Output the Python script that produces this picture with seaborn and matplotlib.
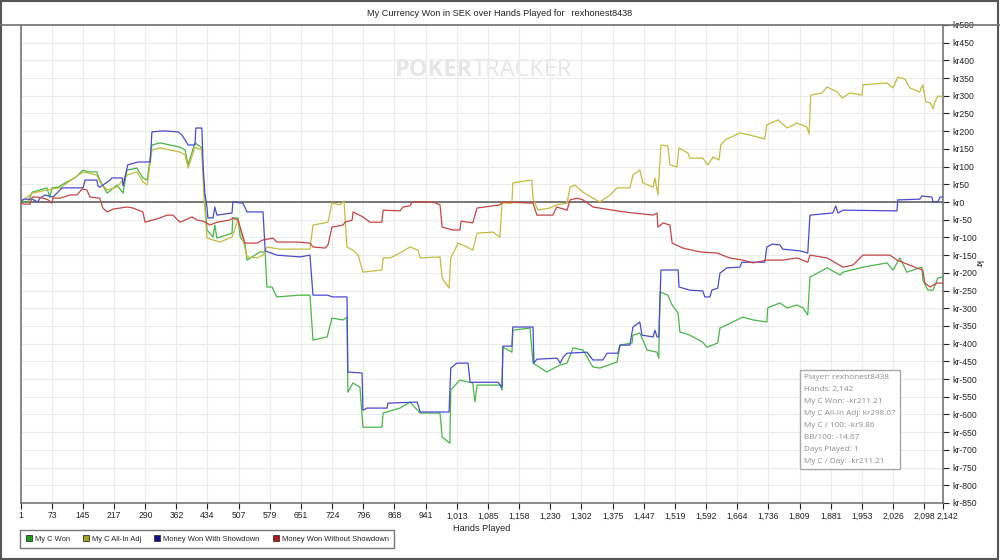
import matplotlib
matplotlib.use("Agg")
import matplotlib.pyplot as plt
import seaborn as sns
from matplotlib.lines import Line2D
from matplotlib.patches import Patch, Rectangle
from matplotlib.transforms import ScaledTranslation

# Cumulative winnings (kr) against hands played
won_hands = [1, 17, 27, 45, 61, 68, 73, 87, 108, 126, 145, 157, 177, 184, 201, 224, 238, 247, 270, 284,
             294, 305, 324, 370, 382, 389, 405, 421, 426, 433, 447, 451, 456, 491, 493, 505, 510, 521, 526, 556,
             568, 572, 584, 595, 649, 672, 679, 712, 723, 749, 758, 760, 772, 788, 795, 839, 842, 881, 904, 928,
             974, 979, 997, 999, 1020, 1050, 1055, 1060, 1113, 1118, 1120, 1141, 1143, 1183, 1190, 1222, 1253, 1269, 1283, 1306,
             1329, 1345, 1385, 1392, 1420, 1422, 1438, 1455, 1478, 1482, 1485, 1503, 1513, 1527, 1531, 1554, 1584, 1594, 1619, 1624,
             1640, 1677, 1701, 1733, 1735, 1763, 1780, 1803, 1817, 1828, 1833, 1873, 1903, 1910, 1956, 2012, 2026, 2042, 2058, 2093,
             2095, 2107, 2119, 2130, 2142]
won_kr = [0, 0, 28, 34, 40, 14, 40, 42, 57, 68, 90, 85, 85, 62, 25, 48, 25, 90, 96, 68,
          62, 161, 167, 155, 147, 105, 167, 153, 34, -79, -99, -65, -102, -88, -45, -45, -99, -116, -164, -141,
          -141, -240, -240, -268, -263, -263, -390, -381, -328, -333, -325, -537, -511, -523, -636, -636, -596, -582, -565, -596,
          -596, -664, -681, -531, -503, -511, -565, -517, -517, -531, -410, -424, -362, -356, -455, -480, -460, -455, -412, -418,
          -466, -469, -452, -404, -398, -376, -370, -418, -424, -441, -254, -263, -291, -314, -367, -376, -396, -410, -398, -356,
          -347, -325, -333, -339, -299, -285, -299, -291, -299, -319, -212, -186, -206, -198, -184, -172, -192, -158, -198, -184,
          -220, -249, -249, -215, -211]

allin_hands = [1, 27, 61, 92, 108, 145, 177, 184, 201, 224, 247, 270, 284, 294, 305, 324, 370, 382, 389, 405,
               421, 426, 433, 463, 491, 505, 526, 549, 563, 572, 602, 672, 679, 714, 723, 742, 751, 758, 772, 784,
               795, 839, 842, 858, 881, 904, 923, 928, 974, 979, 995, 999, 1016, 1037, 1050, 1060, 1097, 1113, 1118, 1141,
               1143, 1187, 1190, 1201, 1229, 1245, 1269, 1276, 1287, 1306, 1329, 1345, 1369, 1385, 1415, 1422, 1438, 1445, 1469, 1473,
               1480, 1487, 1503, 1508, 1524, 1529, 1550, 1554, 1584, 1596, 1608, 1622, 1626, 1636, 1670, 1694, 1728, 1733, 1759, 1780,
               1803, 1826, 1831, 1835, 1861, 1873, 1896, 1908, 1926, 1954, 1956, 2012, 2026, 2037, 2054, 2065, 2088, 2095, 2102, 2112,
               2119, 2123, 2130, 2142]
allin_kr = [0, 25, 34, 40, 54, 85, 76, 57, 34, 42, 76, 85, 57, 48, 147, 153, 141, 133, 96, 155,
            147, 14, -102, -113, -99, -51, -155, -158, -150, -127, -133, -133, -65, -57, -3, -8, 3, -127, -136, -150,
            -198, -192, -158, -158, -144, -127, -136, -158, -155, -215, -243, -158, -116, -127, -136, -88, -85, -99, -3, -3,
            54, 62, 11, -23, -17, -8, -3, 42, 48, 28, 11, 0, 20, 40, 40, 76, 90, 54, 42, 68,
            20, 161, 158, 105, 99, 153, 138, 124, 124, 105, 127, 119, 161, 175, 195, 189, 178, 218, 232, 209,
            223, 212, 192, 302, 308, 325, 311, 294, 308, 302, 331, 336, 322, 353, 347, 322, 311, 331, 283, 280,
            263, 283, 299, 298]

sd_hands = [1, 6, 27, 40, 45, 57, 75, 87, 96, 145, 150, 177, 180, 184, 208, 212, 236, 238, 249, 273,
            301, 305, 331, 366, 375, 389, 405, 407, 421, 424, 428, 433, 435, 447, 451, 456, 491, 493, 516, 526,
            563, 568, 595, 649, 672, 679, 712, 725, 758, 760, 793, 795, 804, 851, 853, 921, 928, 995, 999, 1013,
            1039, 1044, 1109, 1118, 1120, 1141, 1143, 1190, 1192, 1199, 1246, 1253, 1260, 1269, 1315, 1329, 1352, 1362, 1387, 1392,
            1415, 1422, 1438, 1443, 1469, 1473, 1478, 1482, 1487, 1527, 1529, 1554, 1584, 1589, 1601, 1605, 1619, 1624, 1640, 1670,
            1675, 1728, 1733, 1745, 1763, 1770, 1810, 1828, 1833, 1886, 1893, 1898, 1910, 2035, 2037, 2088, 2093, 2116, 2119, 2130,
            2135, 2142]
sd_kr = [0, 8, 8, 0, 11, 20, 14, 28, 40, 40, 62, 62, 45, 42, 62, 68, 68, 45, 105, 113,
         113, 198, 201, 198, 189, 161, 161, 209, 209, 99, 25, -17, -45, -45, -14, -37, -31, 0, -3, -28,
         -28, -138, -150, -155, -150, -263, -263, -268, -268, -480, -483, -588, -582, -582, -568, -565, -593, -593, -469, -455,
         -455, -509, -509, -523, -407, -407, -353, -353, -455, -444, -441, -455, -438, -427, -424, -446, -446, -427, -427, -404,
         -404, -353, -339, -376, -381, -362, -381, -381, -192, -192, -240, -249, -251, -268, -268, -249, -243, -201, -186, -184,
         -170, -170, -127, -119, -121, -133, -138, -144, -37, -31, -11, -31, -23, -25, 6, 8, 17, 14, 0, 0,
         14, 14]

nsd_hands = [1, 6, 22, 27, 38, 52, 64, 73, 75, 92, 115, 131, 143, 154, 161, 184, 191, 201, 215, 231,
             247, 261, 284, 289, 307, 324, 340, 354, 370, 382, 398, 410, 424, 440, 456, 486, 493, 505, 521, 549,
             563, 586, 595, 642, 672, 679, 707, 714, 723, 749, 753, 770, 772, 795, 811, 839, 842, 881, 888, 904,
             909, 958, 974, 979, 1004, 1020, 1023, 1050, 1060, 1113, 1120, 1190, 1199, 1236, 1245, 1269, 1276, 1292, 1306, 1329,
             1385, 1422, 1469, 1478, 1480, 1492, 1508, 1513, 1538, 1578, 1617, 1647, 1677, 1701, 1733, 1770, 1803, 1828, 1833, 1873,
             1910, 1933, 1956, 2019, 2035, 2081, 2095, 2100, 2112, 2128, 2142]
nsd_kr = [0, -6, -6, 14, 14, 11, 6, -3, 11, 11, 20, 20, 37, 34, 14, 11, -17, -28, -20, -17,
          -14, -17, -28, -57, -51, -45, -37, -37, -57, -51, -42, -51, -54, -65, -57, -51, -45, -51, -116, -116,
          -107, -102, -113, -113, -116, -127, -130, -121, -71, -65, -57, -51, -28, -42, -57, -57, -23, -25, -14, -11,
          0, 0, -8, -71, -79, -79, -54, -59, -17, -8, 0, -3, -37, -37, -14, -23, 6, 11, 6, -14,
          -25, -31, -37, -31, -71, -59, -65, -116, -130, -141, -144, -158, -164, -172, -164, -164, -158, -170, -150, -158,
          -184, -178, -150, -150, -164, -186, -192, -229, -240, -229, -229]

series_names = ["My C Won", "My C All-In Adj", "Money Won With Showdown", "Money Won Without Showdown"]
line_colors = ["#45b845", "#c4bc3c", "#4a4ad2", "#c84444"]
swatch_colors = ["#18a018", "#a8a018", "#10108c", "#b01818"]

x_ticks = [1, 73, 145, 217, 290, 362, 434, 507, 579, 651, 724, 796, 868, 941, 1013, 1085, 1158, 1230,
           1302, 1375, 1447, 1519, 1592, 1664, 1736, 1809, 1881, 1953, 2026, 2098, 2142]
y_ticks = list(range(-850, 501, 50))

info_lines = ["Player: rexhonest8438", "Hands: 2,142", "My C Won: -kr211.21", "My C All-In Adj: kr298.07",
              "My C / 100: -kr9.86", "BB/100: -14.67", "Days Played: 1", "My C / Day: -kr211.21"]

sns.set_theme(style="white")
plt.rcParams["font.family"] = ["Liberation Sans", "DejaVu Sans"]

fig = plt.figure(figsize=(10, 5.6), dpi=100)
ax = fig.add_axes([0.021, 0.1018, 0.922, 0.8536])

# watermark behind the lines
ax.text(0.49, 0.905, "POKER", transform=ax.transAxes, ha="right", va="center",
        fontsize=17, fontweight="bold", color="#e6e6e6", family="Open Sans", zorder=0)
ax.text(0.49, 0.905, "TRACKER", transform=ax.transAxes, ha="left", va="center",
        fontsize=17, color="#e6e6e6", family="Open Sans", zorder=0)

all_series = [(won_hands, won_kr), (allin_hands, allin_kr), (sd_hands, sd_kr), (nsd_hands, nsd_kr)]
for (hx, ky), col in zip(all_series, line_colors):
    sns.lineplot(x=hx, y=ky, ax=ax, color=col, linewidth=0.9, sort=False,
                 estimator=None, legend=False, zorder=3)

ax.axhline(0, color="#555555", linewidth=1.1, zorder=2)

ax.set_xlim(1, 2142)
ax.set_ylim(-850, 500)
ax.set_xticks(x_ticks)
ax.set_xticklabels([f"{t:,}" for t in x_ticks])
ax.set_yticks(y_ticks)
ax.set_yticklabels([f"kr{t}" for t in y_ticks])
ax.yaxis.tick_right()
ax.yaxis.set_label_position("right")
ax.grid(True, color="#ececec", linewidth=0.8)
ax.tick_params(axis="both", labelsize=6.2, colors="#222222", length=4, width=0.8,
               direction="out")
ax.tick_params(axis="y", right=True, left=False, pad=2.5)
ax.tick_params(axis="x", bottom=True, pad=2)
for side in ["left", "bottom", "right"]:
    ax.spines[side].set_color("#6a6a6a")
    ax.spines[side].set_linewidth(1.1)
ax.spines["top"].set_visible(False)

# the last two hand labels sit edge to edge, nudge the final one right a touch
xl = ax.get_xticklabels()
xl[-1].set_transform(xl[-1].get_transform() + ScaledTranslation(0.045, 0, fig.dpi_scale_trans))

ax.set_xlabel("Hands Played", fontsize=6.6, color="#222222", labelpad=3)
ax.set_ylabel("kr", fontsize=6.6, color="#222222", rotation=270, labelpad=4)

fig.text(0.5, 1 - 13 / 560, "My Currency Won in SEK over Hands Played for \u2009 rexhonest8438",
         ha="center", va="center", fontsize=6.6, color="#222222")
fig.add_artist(Line2D([0, 1], [1 - 24.5 / 560] * 2, transform=fig.transFigure,
                      color="#707070", linewidth=1.2))
fig.add_artist(Rectangle((0.001, 0.002), 0.997, 0.996, transform=fig.transFigure,
                         fill=False, edgecolor="#555555", linewidth=1.5))

# summary box
ax.text(0.849, 0.27, "\n".join(info_lines), transform=ax.transAxes, ha="left", va="top",
        fontsize=5.9, color="#8c8c8c", family="Open Sans", linespacing=2.0, zorder=5,
        bbox=dict(boxstyle="square,pad=0.5", facecolor="white", edgecolor="#a8a8a8", linewidth=1))

handles = [Patch(facecolor=c, edgecolor="#333333", linewidth=0.6) for c in swatch_colors]
leg = fig.legend(handles, series_names, loc="lower left", bbox_to_anchor=(0.02, 0.021),
                 ncol=4, fontsize=5.4, frameon=True, fancybox=False, handlelength=0.8,
                 handleheight=0.8, handletextpad=0.4, columnspacing=1.75, borderpad=0.75,
                 borderaxespad=0)
leg.get_frame().set_edgecolor("#555555")
leg.get_frame().set_linewidth(1)

fig.savefig("out.png", dpi=100)
